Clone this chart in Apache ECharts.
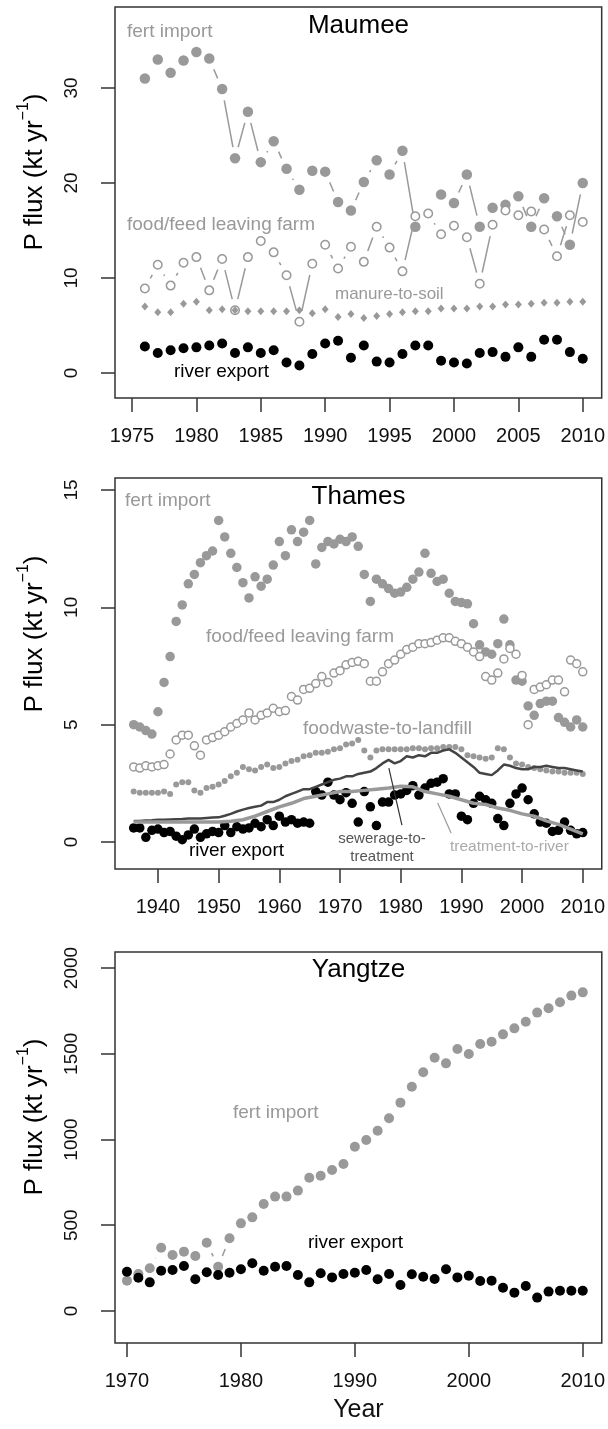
<!DOCTYPE html>
<html>
<head>
<meta charset="utf-8">
<script src="https://cdn.jsdelivr.net/npm/echarts@6/dist/echarts.min.js"></script>
<style>
  html, body { margin: 0; padding: 0; background: #ffffff; }
  #chart { width: 608px; height: 1429px; }
</style>
</head>
<body>
<div id="chart"></div>
<script>
// ---- Maumee (1976-2010) ----
const maumeeYears = [1976, 1977, 1978, 1979, 1980, 1981, 1982, 1983, 1984, 1985, 1986, 1987, 1988, 1989, 1990, 1991, 1992, 1993,
  1994, 1995, 1996, 1997, 1998, 1999, 2000, 2001, 2002, 2003, 2004, 2005, 2006, 2007, 2008, 2009, 2010];
const maumeeFert = [31.0, 33.0, 31.6, 32.9, 33.8, 33.1, 29.9, 22.6, 27.5, 22.2, 24.4, 21.5, 19.3, 21.3, 21.2, 18.0, 17.1, 20.1,
  22.4, 20.9, 23.4, 15.4, null, 18.8, 17.9, 20.9, 15.4, 17.4, 17.7, 18.6, 15.4, 18.4, 16.5, 13.5, 20.0];
const maumeeFood = [8.9, 11.4, 9.2, 11.6, 12.2, 8.7, 12.0, 6.6, 12.2, 13.9, 12.7, 10.3, 5.4, 11.5, 13.5, 11.0, 13.3, 11.7,
  15.4, 13.2, 10.7, 16.5, 16.8, 14.6, 15.5, 14.3, 9.4, 15.6, 17.1, 16.6, 17.0, 15.1, 12.3, 16.6, 15.9];
const maumeeManure = [7.0, 6.4, 6.4, 7.3, 7.5, 6.6, 6.7, 6.6, 6.5, 6.5, 6.5, 6.5, 6.6, 6.3, 6.7, 5.9, 6.2, 5.8,
  6.0, 6.2, 6.4, 6.5, 6.5, 6.8, 6.8, 6.8, 7.0, 7.0, 7.2, 7.2, 7.3, 7.4, 7.4, 7.5, 7.5];
const maumeeRiver = [2.8, 2.1, 2.4, 2.6, 2.7, 2.9, 3.1, 2.1, 2.7, 2.1, 2.4, 1.1, 0.8, 2.0, 3.1, 3.4, 1.6, 2.9,
  1.2, 1.1, 2.0, 2.9, 2.9, 1.3, 1.1, 1.0, 2.1, 2.2, 1.7, 2.7, 1.7, 3.5, 3.5, 2.2, 1.5];

// ---- Thames (1936-2010) ----
const thamesYears = [1936, 1937, 1938, 1939, 1940, 1941, 1942, 1943, 1944, 1945, 1946, 1947, 1948, 1949, 1950,
  1951, 1952, 1953, 1954, 1955, 1956, 1957, 1958, 1959, 1960, 1961, 1962, 1963, 1964, 1965,
  1966, 1967, 1968, 1969, 1970, 1971, 1972, 1973, 1974, 1975, 1976, 1977, 1978, 1979, 1980,
  1981, 1982, 1983, 1984, 1985, 1986, 1987, 1988, 1989, 1990, 1991, 1992, 1993, 1994, 1995,
  1996, 1997, 1998, 1999, 2000, 2001, 2002, 2003, 2004, 2005, 2006, 2007, 2008, 2009, 2010];
const thamesFert = [5.0, 4.9, 4.75, 4.6, 5.55, 6.8, 7.9, 9.4, 10.1, 11.0, 11.4, 11.9, 12.2, 12.4, 13.7,
  13.0, 12.3, 11.7, 11.05, 10.4, 11.3, 10.9, 11.2, 11.8, 12.8, 12.2, 13.3, 12.8, 13.2, 13.7,
  11.85, 12.55, 12.8, 12.7, 12.9, 12.8, 13.0, 12.6, 11.4, 10.25, 11.2, 11.0, 10.8, 10.6, 10.65,
  10.85, 11.2, 11.5, 12.3, 11.45, 11.1, 11.2, 10.6, 10.25, 10.2, 10.15, 9.3, 8.4, 8.1, 8.0,
  8.45, 9.5, 8.4, 6.9, 6.85, 5.8, 5.4, 5.9, 6.0, 6.0, 5.3, 5.1, 4.9, 5.2, 4.9];
const thamesFood = [3.2, 3.15, 3.25, 3.2, 3.25, 3.3, 3.75, 4.35, 4.55, 4.55, 4.1, 3.7, 4.35, 4.45, 4.55,
  4.7, 4.9, 5.05, 5.2, 5.5, 5.2, 5.4, 5.5, 5.7, 5.55, 5.6, 6.2, 6.05, 6.5, 6.55,
  6.75, 7.05, 6.8, 7.2, 7.3, 7.55, 7.65, 7.7, 7.6, 6.85, 6.85, 7.25, 7.6, 7.75, 8.0,
  8.2, 8.3, 8.45, 8.45, 8.5, 8.6, 8.7, 8.7, 8.55, 8.45, 8.3, 8.1, 7.9, 7.05, 6.9,
  7.2, 7.8, 8.25, 8.0, 7.1, 5.0, 6.5, 6.6, 6.7, 6.9, 6.9, 6.4, 7.75, 7.6, 7.25];
const thamesLandfill = [2.15, 2.1, 2.1, 2.1, 2.1, 2.15, 2.05, 2.45, 2.55, 2.55, 2.2, 2.1, 2.3, 2.35, 2.45,
  2.6, 2.8, 2.95, 3.2, 3.1, 3.05, 3.2, 3.3, 3.15, 3.2, 3.35, 3.45, 3.5, 3.65, 3.7,
  3.8, 3.8, 3.85, 3.95, 4.0, 4.15, 4.2, 4.35, 3.9, 3.6, 3.9, 3.95, 3.95, 3.95, 3.95,
  3.95, 4.0, 4.0, 3.95, 4.0, 4.0, 4.05, 4.05, 4.05, 3.95, 3.7, 3.65, 3.6, 3.55, 3.6,
  4.0, 3.95, 3.6, 3.35, 3.3, 3.2, 3.15, 3.1, 3.05, 3.0, 3.0, 2.95, 2.95, 2.95, 2.9];
const thamesSewerage = [0.9, 0.9, 0.92, 0.93, 0.95, 0.95, 0.96, 0.97, 0.98, 1.0, 1.0, 1.0, 1.02, 1.04, 1.05,
  1.12, 1.2, 1.3, 1.38, 1.45, 1.5, 1.55, 1.7, 1.7, 1.8, 1.95, 2.05, 2.15, 2.25, 2.25,
  2.35, 2.45, 2.55, 2.65, 2.7, 2.8, 2.8, 2.9, 2.95, 3.0, 3.15, 3.35, 3.5, 3.35, 3.45,
  3.65, 3.6, 3.7, 3.65, 3.8, 3.8, 3.9, 3.95, 3.8, 3.6, 3.4, 3.2, 2.95, 2.9, 2.85,
  3.05, 3.3, 3.25, 3.15, 3.1, 3.1, 3.2, 3.2, 3.25, 3.2, 3.15, 3.15, 3.1, 3.05, 3.0];
const thamesTreatYears = [1936, 1938, 1940, 1942, 1944, 1946, 1948, 1950, 1952, 1954, 1956, 1958, 1960, 1962, 1964,
  1966, 1968, 1970, 1972, 1974, 1976, 1978, 1980, 1982, 1984, 1986, 1988, 1990, 1992, 1994,
  1996, 1998, 2000, 2002, 2004, 2006, 2008, 2010];
const thamesTreatment = [0.85, 0.85, 0.85, 0.85, 0.85, 0.85, 0.85, 0.85, 0.88, 0.95, 1.1, 1.3, 1.5, 1.65, 1.85,
  1.95, 2.05, 2.15, 2.15, 2.2, 2.25, 2.3, 2.38, 2.35, 2.15, 2.05, 1.95, 1.8, 1.65, 1.6,
  1.45, 1.35, 1.2, 1.1, 0.9, 0.75, 0.55, 0.35];
const thamesRiver = [0.6, 0.6, 0.2, 0.5, 0.55, 0.4, 0.45, 0.25, 0.1, 0.3, 0.55, 0.2, 0.35, 0.45, 0.4,
  0.7, 0.4, 0.65, 0.55, 0.6, 0.8, 0.65, 0.95, 0.7, 1.1, 0.85, 0.95, 0.8, 0.85, 0.8,
  2.15, 2.0, 2.55, 2.0, 1.8, 2.1, 1.65, 0.85, 2.15, 1.5, 0.7, 1.7, 1.7, 2.0, 2.05,
  2.2, 2.4, 2.0, 2.3, 2.5, 2.55, 2.7, 2.05, 2.05, 1.1, 0.95, 1.65, 1.95, 1.8, 1.65,
  1.0, 0.7, 1.65, 2.05, 2.3, 1.8, 1.2, 0.85, 0.8, 0.45, 0.5, 0.85, 0.5, 0.35, 0.4];

// ---- Yangtze (1970-2010) ----
const yangtzeYears = [1970, 1971, 1972, 1973, 1974, 1975, 1976, 1977, 1978, 1979, 1980, 1981, 1982, 1983,
  1984, 1985, 1986, 1987, 1988, 1989, 1990, 1991, 1992, 1993, 1994, 1995, 1996, 1997,
  1998, 1999, 2000, 2001, 2002, 2003, 2004, 2005, 2006, 2007, 2008, 2009, 2010];
const yangtzeFert = [177, 216, 249, 369, 327, 346, 321, 398, 258, 424, 511, 546, 624, 667,
  667, 702, 777, 789, 822, 857, 958, 997, 1051, 1124, 1215, 1308, 1392, 1477,
  1444, 1528, 1499, 1557, 1570, 1613, 1648, 1687, 1740, 1765, 1800, 1839, 1858];
const yangtzeRiver = [229, 194, 167, 235, 239, 262, 185, 226, 210, 223, 243, 278, 235, 258,
  262, 210, 167, 220, 196, 216, 223, 239, 185, 216, 152, 214, 200, 187,
  243, 196, 206, 175, 177, 136, 107, 146, 78, 113, 118, 118, 118];

// tick labels
const maumeeXTicks = [1975, 1980, 1985, 1990, 1995, 2000, 2005, 2010];
const maumeeYTicks = [0, 10, 20, 30];
const thamesXTicks = [1940, 1950, 1960, 1970, 1980, 1990, 2000, 2010];
const thamesYTicks = [0, 5, 10, 15];
const yangtzeXTicks = [1970, 1980, 1990, 2000, 2010];
const yangtzeYTicks = [0, 500, 1000, 1500, 2000];

const FONT = '"Liberation Sans", Arial, Helvetica, sans-serif';
const GRAY = '#999999';
const GAP = 11.5; // gap round each point for R type="b" lines

function pairs(xs, ys) {
  return xs.map((x, i) => [x, ys[i]]).filter(d => d[1] != null);
}

function segments(xs, ys) {
  let out = [];
  for (let i = 0; i < xs.length - 1; i++) {
    if (ys[i] == null || ys[i + 1] == null) continue;
    out.push([xs[i], ys[i], xs[i + 1], ys[i + 1]]);
  }
  return out;
}

// lines between points, broken near each point like R's type="b"
function gapLine(idx, xs, ys, color) {
  return {
    type: 'custom',
    xAxisIndex: idx, yAxisIndex: idx,
    data: segments(xs, ys),
    encode: { x: [0, 2], y: [1, 3] },
    silent: true,
    renderItem: function (params, api) {
      let a = api.coord([api.value(0), api.value(1)]);
      let b = api.coord([api.value(2), api.value(3)]);
      let dx = b[0] - a[0], dy = b[1] - a[1];
      let len = Math.sqrt(dx * dx + dy * dy);
      if (len <= 2 * GAP) return null;
      let ux = dx / len, uy = dy / len;
      return {
        type: 'line',
        shape: { x1: a[0] + ux * GAP, y1: a[1] + uy * GAP, x2: b[0] - ux * GAP, y2: b[1] - uy * GAP },
        style: { stroke: color, lineWidth: 1.5 }
      };
    }
  };
}

function dots(idx, xs, ys, size, style, symbol) {
  return {
    type: 'scatter',
    xAxisIndex: idx, yAxisIndex: idx,
    data: pairs(xs, ys),
    symbol: symbol || 'circle',
    symbolSize: size,
    silent: true,
    itemStyle: Object.assign({ color: GRAY, opacity: 1 }, style || {})
  };
}

function plainNum(v) { return String(v); }

function xAxisOf(idx, min, max, ticks, extra) {
  return Object.assign({
    gridIndex: idx, type: 'value', min: min, max: max,
    axisLine: { show: false, onZero: false },
    splitLine: { show: false },
    axisTick: { show: true, length: 14, customValues: ticks, lineStyle: { color: '#333', width: 1.5 } },
    axisLabel: { customValues: ticks, formatter: plainNum, fontSize: 20, color: '#111', margin: 28, fontFamily: FONT }
  }, extra || {});
}

function yAxisOf(idx, min, max, ticks) {
  return {
    gridIndex: idx, type: 'value', min: min, max: max,
    axisLine: { show: false, onZero: false },
    splitLine: { show: false },
    axisTick: { show: true, length: 14, customValues: ticks, lineStyle: { color: '#333', width: 1.5 } },
    axisLabel: { customValues: ticks, formatter: plainNum, rotate: 90, fontSize: 19, color: '#111', margin: 34, fontFamily: FONT }
  };
}

function label(x, y, text, color, size, align) {
  return {
    type: 'text', x: x, y: y, silent: true,
    style: { text: text, fill: color, font: size + 'px ' + FONT, align: align || 'left', verticalAlign: 'middle' }
  };
}

function yTitle(y) {
  return {
    type: 'text', x: 32, y: y, rotation: Math.PI / 2, silent: true,
    style: {
      text: '{a|P flux (kt yr}{s|−1}{a|)}',
      align: 'center', verticalAlign: 'middle',
      rich: {
        a: { fontSize: 26, fontFamily: FONT, fill: '#000', lineHeight: 32, verticalAlign: 'bottom' },
        s: { fontSize: 16, fontFamily: FONT, fill: '#000', lineHeight: 32, verticalAlign: 'top' }
      }
    }
  };
}

const gridBox = { show: true, borderColor: '#333', borderWidth: 1.5, backgroundColor: 'transparent', left: 115, width: 487, height: 391 };

const option = {
  animation: false,
  backgroundColor: '#ffffff',
  grid: [
    Object.assign({}, gridBox, { top: 7 }),
    Object.assign({}, gridBox, { top: 478 }),
    Object.assign({}, gridBox, { top: 952 })
  ],
  xAxis: [
    xAxisOf(0, 1973.68, 2011.47, maumeeXTicks),
    xAxisOf(1, 1932.92, 2013.13, thamesXTicks),
    xAxisOf(2, 1968.95, 2011.67, yangtzeXTicks, {
      name: 'Year', nameLocation: 'middle', nameGap: 55,
      nameTextStyle: { fontSize: 25, color: '#111', fontFamily: FONT }
    })
  ],
  yAxis: [
    yAxisOf(0, -2.63, 38.53, maumeeYTicks),
    yAxisOf(1, -1.15, 15.51, thamesYTicks),
    yAxisOf(2, -186.6, 2093.3, yangtzeYTicks)
  ],
  series: [
    // Maumee
    gapLine(0, maumeeYears, maumeeFert, GRAY),
    gapLine(0, maumeeYears, maumeeFood, GRAY),
    gapLine(0, maumeeYears, maumeeManure, GRAY),
    gapLine(0, maumeeYears, maumeeRiver, '#000'),
    dots(0, maumeeYears, maumeeFert, 10.5),
    dots(0, maumeeYears, maumeeFood, 8.5, { color: '#fff', borderColor: GRAY, borderWidth: 1.5 }),
    dots(0, maumeeYears, maumeeManure, [7, 8], null, 'diamond'),
    dots(0, maumeeYears, maumeeRiver, 10, { color: '#000' }),
    // Thames
    dots(1, thamesYears, thamesFert, 9.5),
    dots(1, thamesYears, thamesFood, 8, { color: '#fff', borderColor: GRAY, borderWidth: 1.5 }),
    dots(1, thamesYears, thamesLandfill, 6),
    dots(1, thamesYears, thamesRiver, 9.5, { color: '#000' }),
    {
      type: 'line', xAxisIndex: 1, yAxisIndex: 1, data: pairs(thamesYears, thamesSewerage),
      showSymbol: false, silent: true, lineStyle: { color: '#444', width: 2.5 },
      markLine: {
        silent: true, symbol: ['none', 'none'], label: { show: false },
        lineStyle: { color: '#333', width: 1.2, type: 'solid' },
        data: [[{ coord: [1978.05, 3.15] }, { coord: [1980.2, 0.72] }]]
      }
    },
    {
      type: 'line', xAxisIndex: 1, yAxisIndex: 1, data: pairs(thamesTreatYears, thamesTreatment),
      showSymbol: false, silent: true, lineStyle: { color: GRAY, width: 3.5 },
      markLine: {
        silent: true, symbol: ['none', 'none'], label: { show: false },
        lineStyle: { color: GRAY, width: 1.2, type: 'solid' },
        data: [[{ coord: [1986.1, 1.66] }, { coord: [1988.3, 0.38] }]]
      }
    },
    // Yangtze
    gapLine(2, yangtzeYears, yangtzeFert, GRAY),
    gapLine(2, yangtzeYears, yangtzeRiver, '#000'),
    dots(2, yangtzeYears, yangtzeFert, 10),
    dots(2, yangtzeYears, yangtzeRiver, 10, { color: '#000' })
  ],
  graphic: [
    yTitle(172), yTitle(634), yTitle(1117),
    label(358.5, 26, 'Maumee', '#000', 26, 'center'),
    label(358.5, 497, 'Thames', '#000', 26, 'center'),
    label(358.5, 970, 'Yangtze', '#000', 26, 'center'),
    // Maumee labels
    label(127, 32, 'fert import', GRAY, 19),
    label(127, 225, 'food/feed leaving farm', GRAY, 19),
    label(335, 294, 'manure-to-soil', GRAY, 17),
    label(174, 372, 'river export', '#000', 19),
    // Thames labels
    label(125, 501, 'fert import', GRAY, 19),
    label(206, 637, 'food/feed leaving farm', GRAY, 19),
    label(303, 729, 'foodwaste-to-landfill', GRAY, 19),
    label(189, 851, 'river export', '#000', 19),
    label(382, 839, 'sewerage-to-', '#555', 15, 'center'),
    label(382, 857, 'treatment', '#555', 15, 'center'),
    label(450, 847, 'treatment-to-river', '#aaa', 15.5),
    // Yangtze labels
    label(233, 1113, 'fert import', GRAY, 19),
    label(308, 1243, 'river export', '#000', 19)
  ]
};

const myChart = echarts.init(document.getElementById('chart'));
myChart.setOption(option);
</script>
</body>
</html>
